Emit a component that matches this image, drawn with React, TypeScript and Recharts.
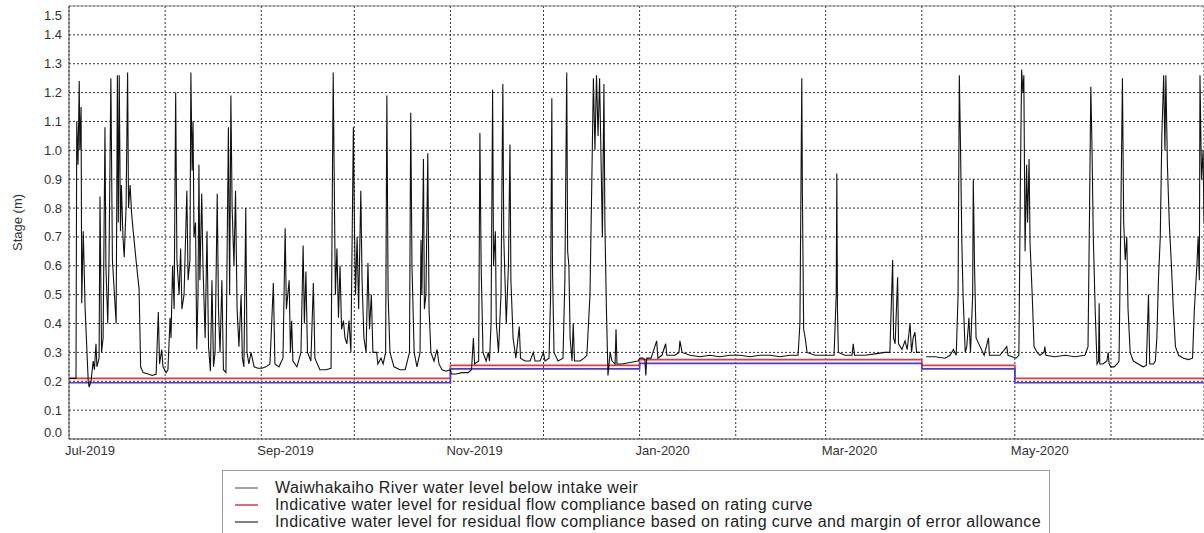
import {
  LineChart,
  Line,
  XAxis,
  YAxis,
  CartesianGrid,
  Legend,
  ReferenceLine,
} from "recharts";

const FONT = "'Liberation Sans', Arial, sans-serif";

// x values are days since 1 Jul 2019
const monthTicks = [0, 31, 62, 92, 123, 153, 184, 215, 244, 275, 305, 336, 366];
const monthLabels = ["Jul-2019", "", "Sep-2019", "", "Nov-2019", "", "Jan-2020", "", "Mar-2020", "", "May-2020", "", ""];
const stageTicks = [0, 0.1, 0.2, 0.3, 0.4, 0.5, 0.6, 0.7, 0.8, 0.9, 1.0, 1.1, 1.2, 1.3, 1.4, 1.5];

// compliance levels, changing at month boundaries
const stepDays = [0, 123, 184, 275, 305, 366];
const ratingCurveLevel = [0.21, 0.255, 0.275, 0.255, 0.21, 0.21];
const marginLevel = [0.195, 0.243, 0.262, 0.243, 0.195, 0.195];

const legendLabels = [
  "Waiwhakaiho River water level below intake weir",
  "Indicative water level for residual flow compliance based on rating curve",
  "Indicative water level for residual flow compliance based on rating curve and margin of error allowance",
];
const legendColors = ["#7d8a84", "#e0305a", "#555555"];

// river stage readings [day, stage m]
const jul2019 = [
  [0, 0.21], [2.26, 0.21], [2.5, 1.1], [2.9, 0.95], [3.3, 1.24], [3.5, 1.0], [3.9, 1.15], [4.1, 0.47],
  [4.6, 0.72], [5.2, 0.45], [6.2, 0.2], [6.5, 0.18], [7.1, 0.2], [7.8, 0.27], [8.2, 0.24], [8.7, 0.33],
  [9.0, 0.25], [9.7, 0.28], [10.0, 0.84], [10.5, 0.3], [11.0, 0.35], [11.6, 1.08], [11.9, 0.6], [12.5, 0.4],
  [12.9, 0.62], [13.5, 1.25], [14.0, 0.62], [15.2, 0.4], [15.6, 1.26], [15.9, 0.75], [16.2, 1.26], [16.6, 0.72],
  [16.9, 0.88], [17.4, 0.7], [17.8, 0.63], [18.4, 0.8], [18.9, 1.27], [19.2, 0.8], [19.7, 0.88], [20.2, 0.78],
  [20.7, 0.72], [21.8, 0.6], [22.6, 0.52], [23.1, 0.25], [23.9, 0.23], [25.5, 0.225], [26.8, 0.22], [28.1, 0.225],
  [28.8, 0.44], [29.2, 0.26], [29.9, 0.31], [30.3, 0.25], [31.3, 0.23],
];
const aug2019 = [
  [31.9, 0.24], [32.6, 0.42], [32.9, 0.35], [33.4, 0.6], [33.9, 0.45], [34.4, 1.2], [34.8, 0.62], [35.5, 0.5],
  [36.0, 0.66], [36.4, 0.45], [37.1, 0.5], [38.0, 0.86], [38.4, 0.55], [39.0, 0.62], [39.3, 1.27], [39.7, 0.93],
  [40.0, 1.1], [40.3, 0.7], [40.8, 0.75], [41.2, 0.31], [41.6, 0.5], [41.9, 0.95], [42.2, 0.55], [42.8, 0.85],
  [43.2, 0.6], [43.9, 0.35], [44.5, 0.72], [45.0, 0.32], [45.6, 0.235], [46.1, 0.55], [46.6, 0.25], [47.1, 0.3],
  [47.8, 0.85], [48.2, 0.45], [48.7, 0.3], [49.3, 0.55], [49.8, 0.24], [50.6, 0.23], [51.4, 1.08], [51.8, 0.5],
  [52.2, 1.19], [52.6, 0.8], [53.2, 0.6], [53.7, 0.86], [54.2, 0.45], [54.8, 0.32], [55.5, 0.5], [55.9, 0.28],
  [56.4, 0.25], [57.0, 0.8], [57.4, 0.3], [58.0, 0.26], [58.7, 0.3], [59.7, 0.25], [60.9, 0.245], [62.2, 0.245],
];
const sep2019 = [
  [63.5, 0.25], [64.8, 0.26], [65.9, 0.54], [66.4, 0.26], [67.7, 0.25], [69.0, 0.28], [69.7, 0.73], [70.1, 0.45],
  [71.0, 0.55], [71.4, 0.3], [71.8, 0.41], [72.2, 0.27], [73.5, 0.25], [74.8, 0.3], [75.5, 0.67], [75.9, 0.4],
  [76.4, 0.58], [76.9, 0.3], [78.0, 0.27], [78.8, 0.54], [79.3, 0.28], [80.9, 0.24], [82.9, 0.24], [84.5, 0.245],
  [85.2, 1.27], [85.5, 0.93], [85.9, 0.5], [86.4, 0.66], [86.9, 0.42], [87.4, 0.6], [87.9, 0.38], [88.5, 0.41],
  [89.0, 0.35], [89.6, 0.33], [90.3, 0.41], [90.9, 0.3], [91.7, 1.08],
];
const oct2019 = [
  [92.1, 0.7], [92.4, 0.5], [92.9, 0.7], [93.4, 0.45], [94.1, 0.86], [94.5, 0.55], [95.1, 0.35], [95.8, 0.3],
  [96.4, 0.61], [96.9, 0.38], [97.5, 0.5], [98.0, 0.3], [99.2, 0.3], [99.6, 0.26], [100.6, 0.28], [101.3, 0.26],
  [102.1, 0.3], [102.5, 1.19], [102.9, 0.5], [103.5, 0.3], [104.8, 0.25], [106.7, 0.24], [108.4, 0.24], [109.8, 0.3],
  [110.2, 1.13], [110.6, 0.6], [111.3, 0.3], [112.2, 0.25], [113.2, 0.3], [113.5, 0.69], [113.8, 0.5], [114.3, 0.97],
  [114.6, 0.45], [115.1, 0.5], [115.7, 0.99], [116.1, 0.45], [116.7, 0.3], [117.7, 0.27], [118.7, 0.31], [119.3, 0.26],
  [120.3, 0.24], [121.6, 0.235], [122.9, 0.24],
];
const nov2019 = [
  [123.3, 0.225], [124.8, 0.225], [126.7, 0.23], [128.7, 0.23], [129.8, 0.24], [130.4, 0.35], [130.8, 0.26], [132.1, 0.27],
  [132.5, 1.06], [132.9, 0.6], [133.5, 0.3], [134.5, 0.27], [135.2, 0.3], [135.6, 0.27], [136.1, 0.4], [136.6, 1.21],
  [136.9, 0.6], [137.5, 0.72], [137.8, 0.4], [138.5, 0.3], [139.3, 0.5], [139.9, 1.23], [140.2, 0.7], [141.0, 0.4],
  [141.7, 0.6], [142.2, 1.02], [142.5, 0.55], [143.2, 0.35], [144.1, 0.28], [145.2, 0.39], [145.6, 0.28], [147.0, 0.27],
  [148.7, 0.27], [149.7, 0.3], [150.3, 0.27], [151.9, 0.27], [153.0, 0.3],
];
const dec2019 = [
  [153.5, 0.27], [154.8, 0.28], [155.3, 0.5], [155.7, 1.18], [155.9, 0.6], [156.4, 0.3], [157.7, 0.27], [159.3, 0.28],
  [159.9, 0.55], [160.5, 1.27], [160.8, 0.65], [161.2, 0.6], [161.6, 0.35], [162.2, 0.27], [162.6, 0.4], [163.0, 0.27],
  [164.8, 0.27], [166.1, 0.28], [167.0, 0.29], [168.0, 0.5], [168.6, 0.9], [169.1, 1.25], [169.6, 1.0], [170.1, 1.26],
  [170.6, 1.05], [171.1, 1.25], [171.6, 0.95], [172.0, 0.7], [172.5, 1.23], [172.8, 0.75], [173.3, 0.45], [173.8, 0.22],
  [174.5, 0.3], [175.1, 0.27], [176.1, 0.26], [176.4, 0.38], [176.7, 0.26], [178.3, 0.26], [180.9, 0.265], [183.5, 0.27],
];
const jan2020 = [
  [184.1, 0.28], [185.1, 0.28], [185.7, 0.275], [186.0, 0.22], [186.3, 0.28], [187.7, 0.28], [189.5, 0.34], [189.9, 0.28],
  [191.2, 0.29], [192.4, 0.33], [192.8, 0.29], [195.4, 0.29], [196.7, 0.3], [197.0, 0.34], [197.7, 0.3], [200.3, 0.29],
  [203.5, 0.285], [206.7, 0.29], [209.9, 0.285], [213.1, 0.29],
];
const feb2020 = [
  [216.4, 0.29], [219.6, 0.285], [222.8, 0.29], [226.1, 0.29], [229.3, 0.285], [232.5, 0.29], [235.1, 0.29], [235.7, 0.4],
  [236.3, 1.25], [236.5, 0.85], [236.9, 0.38], [237.4, 0.35], [238.0, 0.3], [240.6, 0.29], [243.8, 0.29],
];
const mar2020 = [
  [246.7, 0.29], [247.4, 0.5], [247.6, 0.92], [247.8, 0.45], [248.1, 0.3], [250.2, 0.29], [252.5, 0.29], [252.9, 0.33],
  [253.3, 0.29], [256.7, 0.29], [259.9, 0.295], [263.1, 0.3], [264.7, 0.3], [265.6, 0.62], [265.9, 0.35], [266.4, 0.33],
  [267.2, 0.56], [267.5, 0.33], [268.6, 0.31], [269.6, 0.34], [270.3, 0.31], [271.2, 0.4], [271.7, 0.3], [272.2, 0.35],
  [272.8, 0.37], [273.3, 0.3], [274.4, 0.3], [275.1, null],
];
const apr2020 = [
  [276.4, 0.285], [279.3, 0.285], [282.5, 0.28], [284.1, 0.29], [285.2, 0.31], [286.1, 0.29], [286.7, 0.5], [287.1, 1.26],
  [287.5, 1.0], [287.9, 0.69], [288.3, 0.5], [289.0, 0.3], [289.5, 0.32], [290.2, 0.42], [290.7, 0.3], [291.4, 0.5],
  [291.6, 0.9], [292.0, 0.6], [292.5, 0.35], [293.8, 0.32], [295.1, 0.29], [296.5, 0.35], [296.8, 0.29], [298.6, 0.29],
  [300.2, 0.29], [302.4, 0.32], [302.8, 0.29], [304.1, 0.285],
];
const may2020 = [
  [305.4, 0.28], [306.3, 0.29], [306.8, 0.9], [307.2, 1.28], [307.6, 1.2], [307.9, 1.26], [308.3, 0.65], [308.8, 0.95],
  [309.1, 0.75], [309.6, 0.97], [309.9, 0.68], [310.6, 0.5], [311.2, 0.32], [312.2, 0.3], [313.1, 0.29], [314.4, 0.3],
  [314.7, 0.32], [315.0, 0.29], [317.9, 0.285], [321.2, 0.29], [324.4, 0.285], [327.6, 0.29], [328.6, 0.32], [329.1, 0.8],
  [329.5, 1.22], [329.9, 1.0], [330.3, 0.7], [330.9, 0.45], [331.5, 0.26], [332.0, 0.27], [332.2, 0.47], [332.4, 0.26],
  [333.4, 0.26], [334.7, 0.27], [335.1, 0.3], [335.4, 0.26], [336.0, 0.25],
];
const jun2020 = [
  [337.0, 0.25], [338.0, 0.26], [338.6, 0.27], [339.1, 0.7], [339.7, 1.25], [340.1, 0.75], [340.6, 0.62], [341.1, 0.7],
  [341.5, 0.45], [342.2, 0.3], [343.2, 0.27], [344.8, 0.26], [346.4, 0.25], [347.4, 0.255], [348.1, 0.5], [348.5, 0.26],
  [349.7, 0.26], [350.3, 0.27], [350.8, 0.35], [351.3, 0.55], [351.9, 0.7], [352.4, 1.05], [353.0, 1.26], [353.4, 1.0],
  [353.7, 1.26], [354.2, 0.95], [354.8, 0.75], [355.5, 0.6], [356.1, 0.45], [356.8, 0.32], [357.8, 0.29], [359.4, 0.28],
  [361.0, 0.275], [362.3, 0.28], [362.9, 0.45], [363.7, 0.6], [364.1, 0.7], [364.5, 0.55], [364.7, 1.26], [365.2, 0.9],
  [365.7, 1.0], [366, 0.75],
];

const levelData = [
  ...jul2019, ...aug2019, ...sep2019, ...oct2019, ...nov2019, ...dec2019,
  ...jan2020, ...feb2020, ...mar2020, ...apr2020, ...may2020, ...jun2020,
].map(([day, level]) => ({ day, level }));

const ratingData = stepDays.map((day, i) => ({ day, rating: ratingCurveLevel[i] }));
const marginData = stepDays.map((day, i) => ({ day, margin: marginLevel[i] }));

const MonthTick = (props: any) => {
  const { x, y, payload } = props;
  const idx = monthTicks.indexOf(payload.value);
  const label = idx >= 0 ? monthLabels[idx] : "";
  if (!label) return null;
  return (
    <text x={x - 4} y={y + 8} textAnchor="start" fontSize={13} fontFamily={FONT} fill="#333">
      {label}
    </text>
  );
};

const StageTick = (props: any) => {
  const { x, y, payload } = props;
  let shift = 4.5;
  if (payload.value === 0) shift = -2.5;
  if (payload.value === 1.5) shift = 13.5;
  return (
    <text x={x + 1} y={y + shift} textAnchor="end" fontSize={13} fontFamily={FONT} fill="#333">
      {payload.value.toFixed(1)}
    </text>
  );
};

const StageLabel = (props: any) => {
  const { viewBox } = props;
  const cx = viewBox.x + 22;
  const cy = viewBox.y + viewBox.height / 2;
  return (
    <text
      x={cx}
      y={cy}
      transform={`rotate(-90, ${cx}, ${cy})`}
      textAnchor="middle"
      fontSize={13}
      fontFamily={FONT}
      fill="#333"
    >
      Stage (m)
    </text>
  );
};

const LegendBox = () => (
  <div
    style={{
      border: "1px solid #9a9a9a",
      background: "#fff",
      padding: "8px 0 12px 0",
      fontFamily: FONT,
      fontSize: 16,
      letterSpacing: 0.4,
      color: "#222",
    }}
  >
    {legendLabels.map((label, i) => (
      <div key={i} style={{ display: "flex", alignItems: "center", height: 17, lineHeight: "17px", whiteSpace: "nowrap" }}>
        <svg width={23} height={4} style={{ marginLeft: 12, marginRight: 17, flex: "none" }}>
          <line x1={0} y1={2} x2={23} y2={2} stroke={legendColors[i]} strokeWidth={1.5} />
        </svg>
        <span>{label}</span>
      </div>
    ))}
  </div>
);

export default function App() {
  return (
    <div style={{ position: "absolute", left: 0, top: 0, width: 1204, height: 533, overflow: "hidden", background: "#fff" }}>
      <LineChart width={1204} height={533} margin={{ top: 6, right: 0, left: 0, bottom: 64 }}>
        <CartesianGrid stroke="#333" strokeDasharray="2 2" />
        <XAxis
          dataKey="day"
          type="number"
          domain={[0, 366]}
          ticks={monthTicks}
          interval={0}
          allowDataOverflow
          height={30}
          stroke="#555"
          tickLine={false}
          tick={<MonthTick />}
        />
        <YAxis
          type="number"
          domain={[0, 1.5]}
          ticks={stageTicks}
          interval={0}
          allowDataOverflow
          width={69}
          stroke="#555"
          tickLine={false}
          tick={<StageTick />}
          label={<StageLabel />}
        />
        <ReferenceLine y={1.5} stroke="#999" strokeWidth={1} />
        <Line
          data={ratingData}
          dataKey="rating"
          type="stepAfter"
          stroke="#e8383f"
          strokeWidth={1.6}
          dot={false}
          isAnimationActive={false}
        />
        <Line
          data={marginData}
          dataKey="margin"
          type="stepAfter"
          stroke="#4040e0"
          strokeWidth={1.6}
          dot={false}
          isAnimationActive={false}
        />
        <Line
          data={levelData}
          dataKey="level"
          type="linear"
          stroke="#111"
          strokeWidth={1.1}
          dot={false}
          connectNulls={false}
          isAnimationActive={false}
        />
        <Legend
          layout="horizontal"
          verticalAlign="middle"
          align="center"
          wrapperStyle={{ left: 222, top: 470, width: 828 }}
          content={<LegendBox />}
        />
      </LineChart>
    </div>
  );
}
